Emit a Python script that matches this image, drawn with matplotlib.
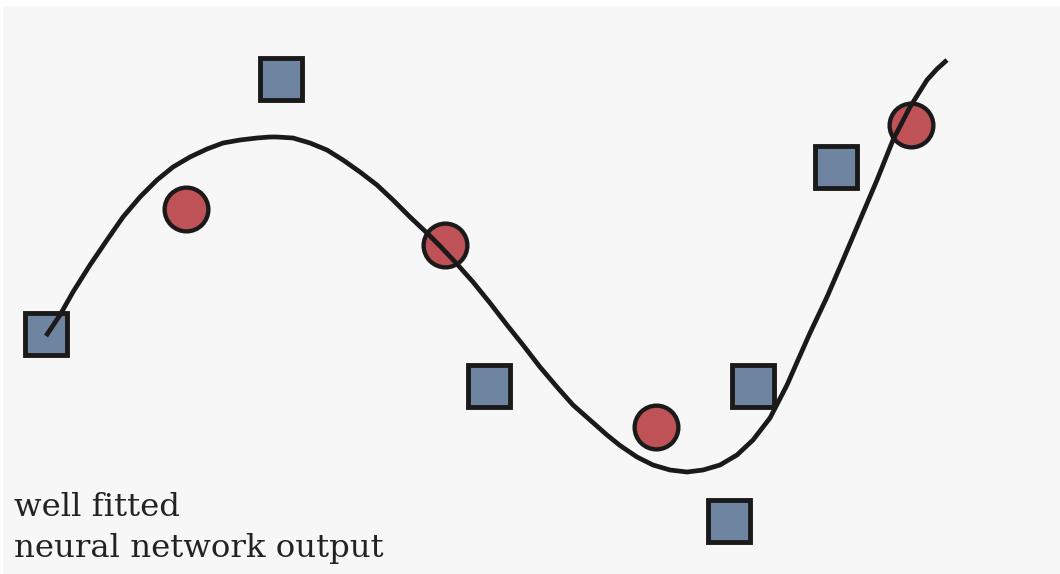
import matplotlib
matplotlib.use('Agg')
import matplotlib.pyplot as plt

# fitted curve (x right, y up)
curve_x = [0.46, 0.60, 0.73, 0.90, 1.07, 1.23, 1.40, 1.57, 1.73, 1.90,
           2.07, 2.23, 2.40, 2.57, 2.70, 2.77, 2.93, 3.10, 3.27, 3.43,
           3.60, 3.77, 3.93, 4.10, 4.27, 4.40, 4.57, 4.73, 4.90, 5.07,
           5.23, 5.40, 5.57, 5.73, 5.90, 6.07, 6.20, 6.37, 6.53, 6.70,
           6.87, 7.03, 7.20, 7.37, 7.53, 7.70, 7.87, 7.98, 8.10, 8.27,
           8.43, 8.60, 8.77, 8.93, 9.10, 9.27, 9.37, 9.47]
curve_y = [2.38, 2.59, 2.82, 3.09, 3.34, 3.57, 3.77, 3.94, 4.07, 4.17,
           4.25, 4.31, 4.34, 4.36, 4.37, 4.37, 4.36, 4.31, 4.24, 4.14,
           4.02, 3.89, 3.74, 3.57, 3.41, 3.28, 3.10, 2.92, 2.71, 2.49,
           2.29, 2.07, 1.87, 1.69, 1.54, 1.39, 1.285, 1.17, 1.09, 1.04,
           1.02, 1.04, 1.09, 1.19, 1.34, 1.56, 1.89, 2.14, 2.41, 2.77,
           3.14, 3.54, 3.94, 4.34, 4.67, 4.94, 5.05, 5.14]

# training samples
square_x = [0.46, 2.81, 4.89, 8.36, 7.53, 7.29]
square_y = [2.40, 4.95, 1.88, 4.07, 1.88, 0.53]
# test samples
circle_x = [1.86, 4.45, 6.56, 9.11]
circle_y = [3.65, 3.29, 1.47, 4.49]

label = 'well fitted\nneural network output'

fig = plt.figure(figsize=(10.6, 5.74), dpi=100)
ax = fig.add_axes([3 / 1060, 0, 1057 / 1060, 568 / 574])
ax.set_xlim(0.03, 10.6)
ax.set_ylim(0, 5.68)
ax.axis('off')
# light grey panel behind everything
ax.add_patch(plt.Rectangle((0, 0), 1, 1, transform=ax.transAxes,
                           color='#f7f7f7', zorder=0))

ax.plot(square_x, square_y, 's', ms=30.5, mfc='#6f84a1', mec='#1a1a1a',
        mew=3.5, zorder=2)
ax.plot(circle_x, circle_y, 'o', ms=31.5, mfc='#bf5257', mec='#1a1a1a',
        mew=3.1, zorder=2)
ax.plot(curve_x, curve_y, color='#1a1a1a', lw=3.4, solid_capstyle='butt',
        solid_joinstyle='round', zorder=3)

ax.text(0.14, 0.105, label, fontsize=23.3, family='DejaVu Serif',
        color='#222222', ha='left', va='bottom', linespacing=1.4)

fig.savefig('out.png', dpi=100, facecolor='white')
